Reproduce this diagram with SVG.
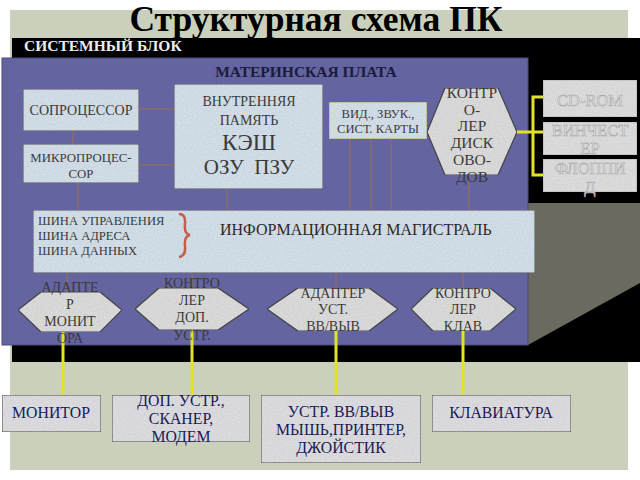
<svg xmlns="http://www.w3.org/2000/svg" width="640" height="480" viewBox="0 0 640 480" font-family="'Liberation Serif','Times New Roman',serif">
<style>
text{font-family:"Liberation Serif","Times New Roman",serif}
.title{font-size:35.5px;font-weight:bold;fill:#000}
.sb{font-size:15.5px;font-weight:bold;fill:#ececec}
.mp{font-size:15.5px;font-weight:bold;fill:#1b1b3c}
.bl{fill:#dce8f2;stroke:#555;stroke-width:1}
.t{fill:#3a3a3a;text-anchor:middle}
.hx{fill:#e4e4e4;stroke:#4a4a4a;stroke-width:1.2}
.drv{fill:#e6e6e6;stroke:#bdbdbd;stroke-width:1}
.dt{font-size:16.5px;fill:#e2e2e2;stroke:#aaaaaa;stroke-width:0.6;text-anchor:middle}
.mb{fill:#e6e6ea;stroke:#666;stroke-width:1.2}
.mt{font-size:15.8px;fill:#1a1a55;text-anchor:middle}
.ln{stroke:#8c6b6b;stroke-width:1.5;fill:none}
.yl{stroke:#e2e22a;stroke-width:3;fill:none}
</style>
<defs>
<filter id="tex" x="0" y="0" width="1" height="1">
<feTurbulence type="fractalNoise" baseFrequency="0.9" numOctaves="2" seed="3" result="n"/>
<feColorMatrix in="n" type="matrix" values="0 0 0 0 0  0 0 0 0 0  0 0 0 0 0  0 0 0 0.25 0" result="a"/>
<feComposite in="a" in2="SourceGraphic" operator="in" result="b"/>
<feMerge><feMergeNode in="SourceGraphic"/><feMergeNode in="b"/></feMerge>
</filter>
</defs>
<rect width="640" height="480" fill="#fff"/>
<rect x="10" y="10" width="618" height="460" fill="#cbd0bc"/>
<rect x="12" y="38" width="628" height="324" fill="#000"/>
<polygon points="528,203 640,203 640,283 528,345" fill="#6a6a5e"/>
<text class="title" x="316" y="31" text-anchor="middle">Структурная схема ПК</text>
<text class="sb" x="24" y="51">СИСТЕМНЫЙ БЛОК</text>

<g id="motherboard">
<rect x="2" y="58" width="526" height="287" fill="#6464a0" stroke="#4a4a80" stroke-width="1"/>
<text class="mp" x="306" y="77" text-anchor="middle">МАТЕРИНСКАЯ ПЛАТА</text>
</g>

<g id="connectors">
<line class="ln" x1="139" y1="109" x2="174" y2="109"/>
<line class="ln" x1="139" y1="165" x2="174" y2="165"/>
<line class="ln" x1="73" y1="131" x2="73" y2="144"/>
<line class="ln" x1="78" y1="183" x2="78" y2="210"/>
<line class="ln" x1="227" y1="189" x2="227" y2="210"/>
<line class="ln" x1="350" y1="139" x2="350" y2="210"/>
<line class="ln" x1="371" y1="139" x2="371" y2="210"/>
<line class="ln" x1="391" y1="139" x2="391" y2="210"/>
<line class="ln" x1="469" y1="175" x2="469" y2="210"/>
<line class="ln" x1="67" y1="273" x2="67" y2="292"/>
<line class="ln" x1="192" y1="273" x2="192" y2="288"/>
<line class="ln" x1="336" y1="273" x2="336" y2="288"/>
<line class="ln" x1="463" y1="273" x2="463" y2="288"/>
<polyline class="yl" points="543,97 533,97 533,175 543,175"/>
<line class="yl" x1="517" y1="132" x2="543" y2="132"/>
<line class="yl" x1="63" y1="330" x2="63" y2="395"/>
<line class="yl" x1="192" y1="330" x2="192" y2="395"/>
<line class="yl" x1="336" y1="330" x2="336" y2="395"/>
<line class="yl" x1="463" y1="330" x2="463" y2="395"/>
</g>

<g id="coprocessor">
<rect class="bl" x="23" y="89" width="116" height="42" filter="url(#tex)"/>
<text class="t" x="81" y="115" font-size="14">СОПРОЦЕССОР</text>
</g>
<g id="microprocessor">
<rect class="bl" x="23" y="144" width="116" height="39" filter="url(#tex)"/>
<text class="t" x="81" y="162" font-size="12.8">МИКРОПРОЦЕС-</text>
<text class="t" x="81" y="178" font-size="12.8">СОР</text>
</g>
<g id="memory">
<rect class="bl" x="174" y="84" width="149" height="105" filter="url(#tex)"/>
<text class="t" x="249" y="106" font-size="14">ВНУТРЕННЯЯ</text>
<text class="t" x="249" y="125" font-size="14">ПАМЯТЬ</text>
<text class="t" x="249" y="150" font-size="23">КЭШ</text>
<text class="t" x="249" y="174" font-size="21" xml:space="preserve">ОЗУ  ПЗУ</text>
</g>
<g id="cards">
<rect x="329" y="102" width="98" height="37" fill="#dce8f2" stroke="#c8b48a" stroke-width="1.2" filter="url(#tex)"/>
<text class="t" x="378" y="118" font-size="12.6">ВИД., ЗВУК.,</text>
<text class="t" x="378" y="133" font-size="12.6">СИСТ. КАРТЫ</text>
</g>
<g id="disk-controller">
<polygon class="hx" points="427,132 445,88 498,88 517,132 498,175 445,175" filter="url(#tex)"/>
<g class="t" font-size="15.5" fill="#444">
<text x="472" y="98">КОНТР</text>
<text x="472" y="115">О-</text>
<text x="472" y="131">ЛЕР</text>
<text x="472" y="148">ДИСК</text>
<text x="472" y="165">ОВО-</text>
<text x="472" y="182">ДОВ</text>
</g>
</g>
<g id="cdrom">
<rect class="drv" x="543" y="80" width="94" height="37" filter="url(#tex)"/>
<text class="dt" x="590" y="106">CD-ROM</text>
</g>
<g id="hdd">
<rect class="drv" x="543" y="122" width="94" height="33" filter="url(#tex)"/>
<text class="dt" x="590" y="136">ВИНЧЕСТ</text>
<text class="dt" x="590" y="154">ЕР</text>
</g>
<g id="floppy">
<rect class="drv" x="543" y="159" width="94" height="33" filter="url(#tex)"/>
<text class="dt" x="590" y="174">ФЛОППИ</text>
<text class="dt" x="590" y="193">Д</text>
</g>

<g id="bus">
<rect class="bl" x="33" y="210" width="502" height="63" stroke="#666" filter="url(#tex)"/>
<text x="38" y="225" font-size="12.6" fill="#3a3a3a">ШИНА УПРАВЛЕНИЯ</text>
<text x="38" y="240" font-size="12.6" fill="#3a3a3a">ШИНА АДРЕСА</text>
<text x="38" y="255" font-size="12.6" fill="#3a3a3a">ШИНА ДАННЫХ</text>
<path d="M179,214 Q186,214 185,224 Q184,234 190,235 Q184,236 185,246 Q186,256 179,257" fill="none" stroke="#c0604a" stroke-width="2.5"/>
<text x="220" y="235" font-size="16" fill="#2a2a2a">ИНФОРМАЦИОННАЯ МАГИСТРАЛЬ</text>
</g>

<g id="monitor-adapter">
<polygon class="hx" points="18,310 41,292 100,292 122,310 100,332 41,332" filter="url(#tex)"/>
<g class="t" font-size="14" fill="#444">
<text x="70" y="292">АДАПТЕ</text>
<text x="70" y="309">Р</text>
<text x="70" y="326">МОНИТ</text>
<text x="70" y="343">ОРА</text>
</g>
</g>
<g id="ext-controller">
<polygon class="hx" points="135,309 159,288 218,288 249,309 218,330 159,330" filter="url(#tex)"/>
<g class="t" font-size="14" fill="#444">
<text x="192" y="288">КОНТРО</text>
<text x="192" y="305">ЛЕР</text>
<text x="192" y="322">ДОП.</text>
<text x="192" y="340">УСТР.</text>
</g>
</g>
<g id="io-adapter">
<polygon class="hx" points="267,309 298,288 369,288 398,309 369,331 298,331" filter="url(#tex)"/>
<g class="t" font-size="14" fill="#444">
<text x="333" y="298">АДАПТЕР</text>
<text x="333" y="314">УСТ.</text>
<text x="333" y="331">ВВ/ВЫВ</text>
</g>
</g>
<g id="kbd-controller">
<polygon class="hx" points="411,309 433,288 490,288 516,309 490,331 433,331" filter="url(#tex)"/>
<g class="t" font-size="14" fill="#444">
<text x="463" y="298">КОНТРО</text>
<text x="463" y="314">ЛЕР</text>
<text x="463" y="331">КЛАВ</text>
</g>
</g>

<g id="monitor">
<rect class="mb" x="2" y="395" width="99" height="37" filter="url(#tex)"/>
<text class="mt" x="51" y="418">МОНИТОР</text>
</g>
<g id="ext-devices">
<rect class="mb" x="112" y="395" width="138" height="47" filter="url(#tex)"/>
<text class="mt" x="181" y="406">ДОП. УСТР.,</text>
<text class="mt" x="181" y="424">СКАНЕР,</text>
<text class="mt" x="181" y="442">МОДЕМ</text>
</g>
<g id="io-devices">
<rect class="mb" x="261" y="395" width="160" height="68" filter="url(#tex)"/>
<text class="mt" x="341" y="417">УСТР. ВВ/ВЫВ</text>
<text class="mt" x="341" y="435">МЫШЬ,ПРИНТЕР,</text>
<text class="mt" x="341" y="453">ДЖОЙСТИК</text>
</g>
<g id="keyboard">
<rect class="mb" x="432" y="395" width="139" height="37" filter="url(#tex)"/>
<text class="mt" x="501" y="418">КЛАВИАТУРА</text>
</g>
</svg>
